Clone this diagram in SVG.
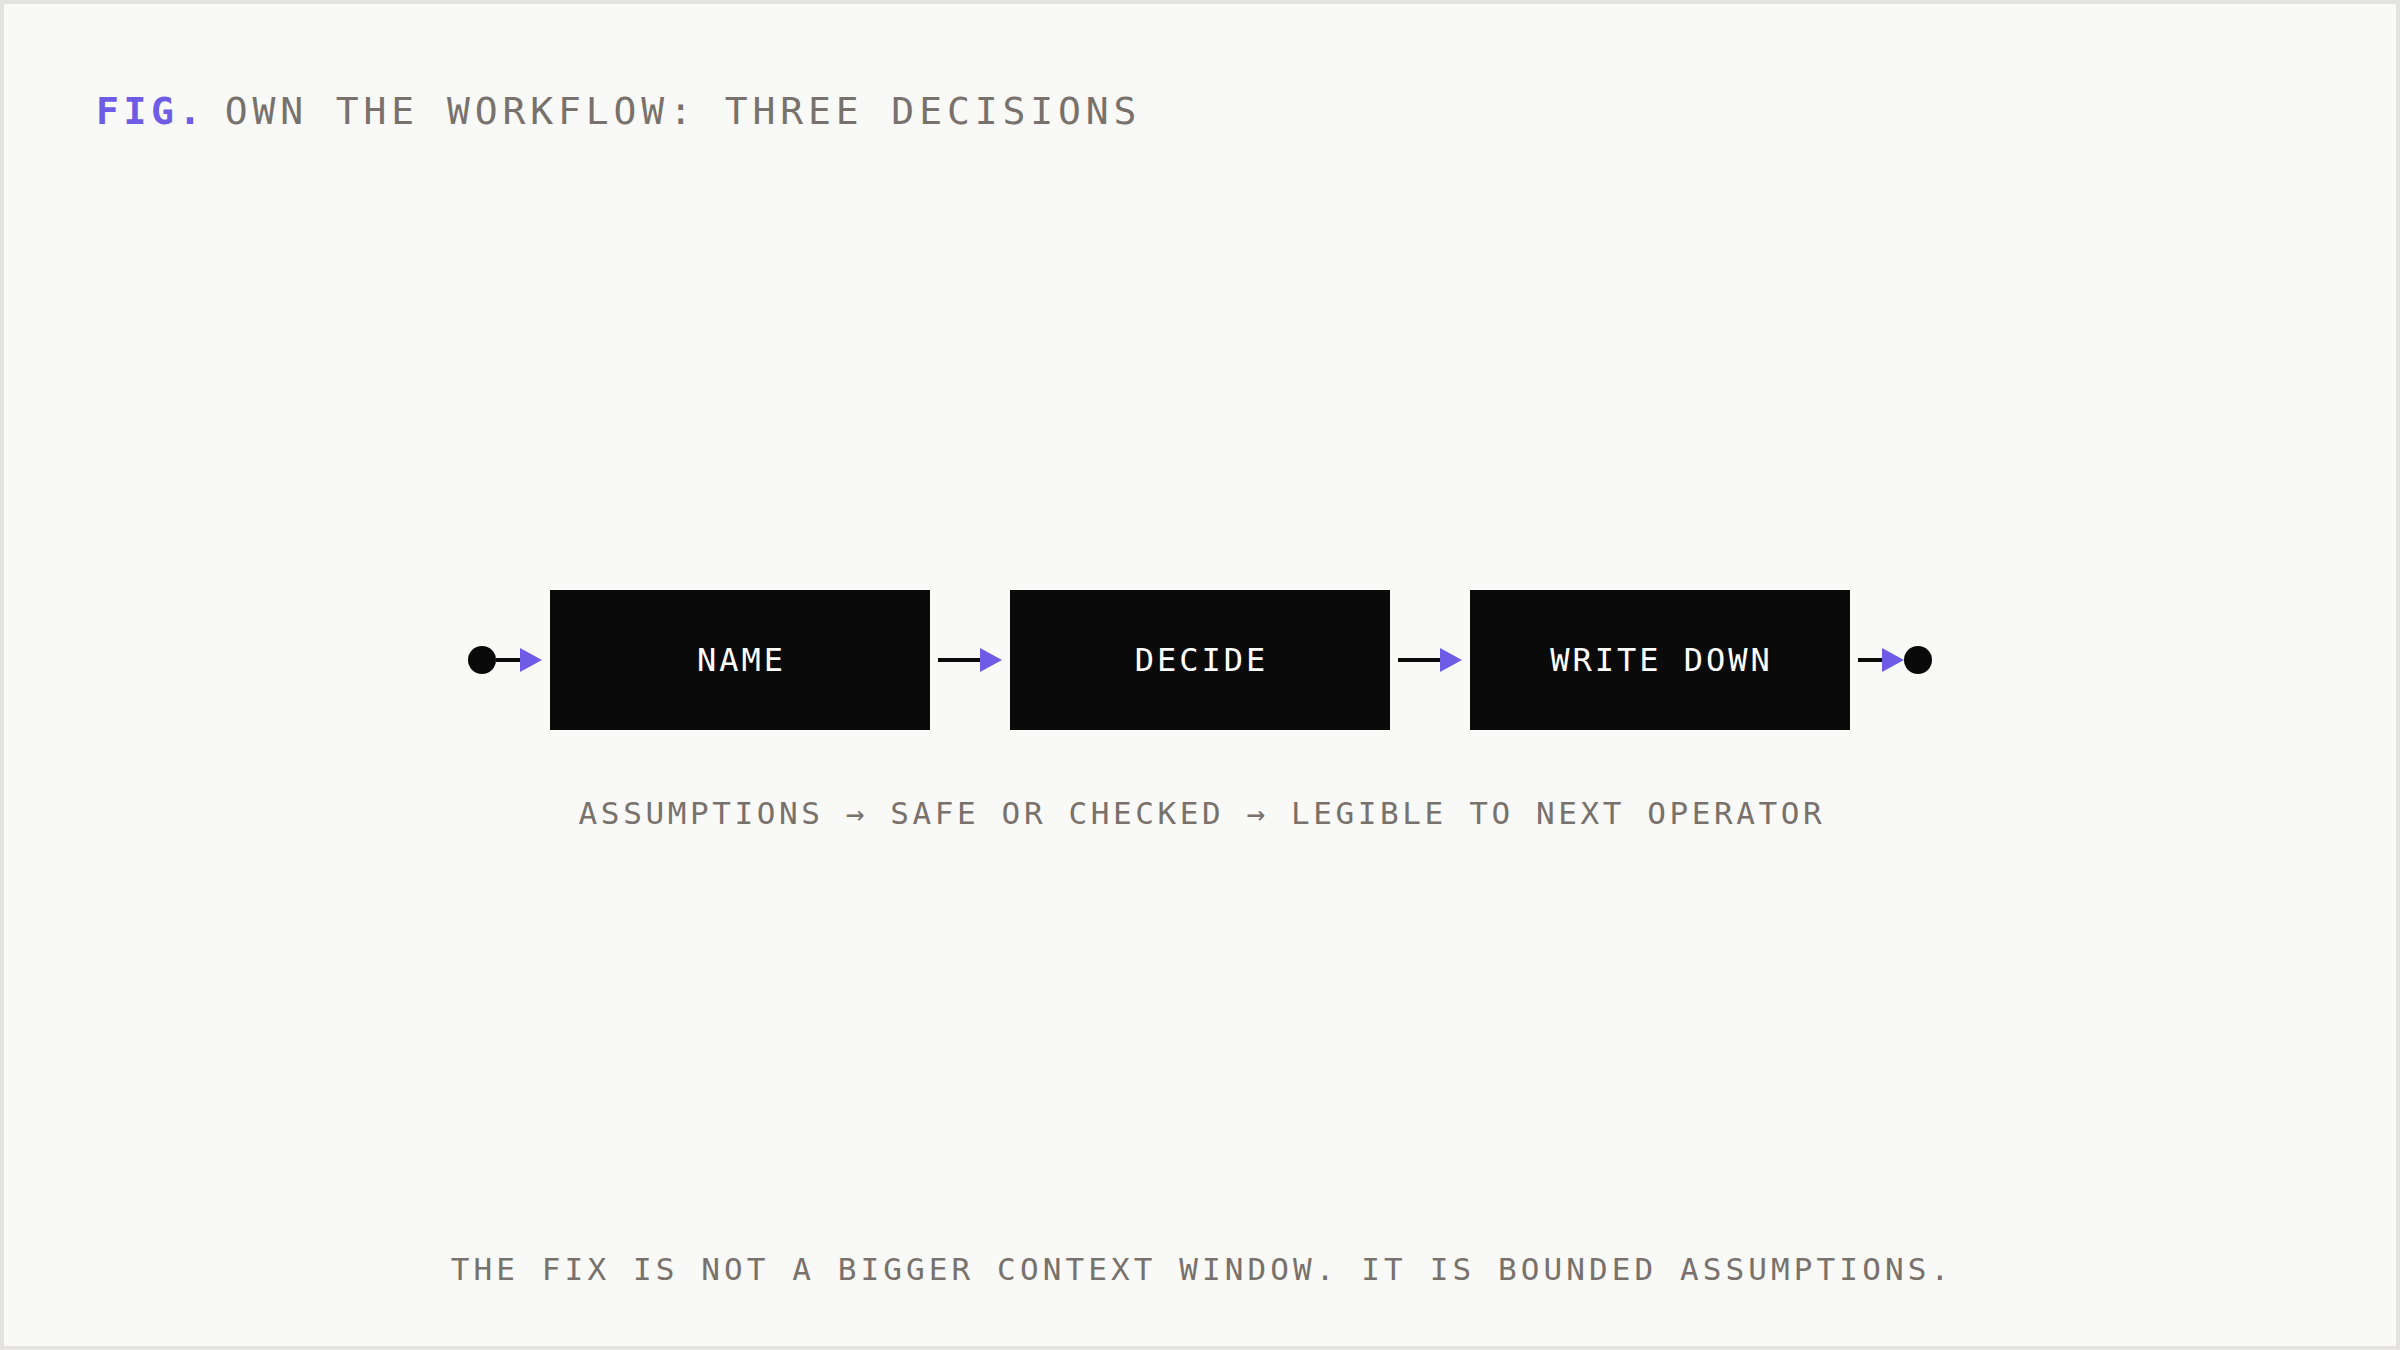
<svg xmlns="http://www.w3.org/2000/svg" width="2400" height="1350" viewBox="0 0 2400 1350">
  <defs>
    <style>
      .bg { fill: #f9f9f7; stroke: #e4e3e1; stroke-width: 4; }
      .box { fill: #0a0a0a; }
      .lbl { font-family: "DejaVu Sans Mono", "Liberation Mono", monospace; font-size: 32px; letter-spacing: 3px; fill: #ffffff; font-weight: 500; text-anchor: middle; }
      .title { font-family: "DejaVu Sans Mono", "Liberation Mono", monospace; font-size: 38px; letter-spacing: 4.6px; fill: #78716c; }
      .fig { fill: #6e5ce6; font-weight: bold; }
      .rest { letter-spacing: 4.9px; }
      .cap { font-family: "DejaVu Sans Mono", "Liberation Mono", monospace; font-size: 31px; letter-spacing: 3.6px; fill: #78716c; text-anchor: middle; }
      .foot { letter-spacing: 4.1px; }
      .edge { stroke: #0a0a0a; stroke-width: 4; fill: none; marker-end: url(#arrow); }
      .dot { fill: #0a0a0a; }
    </style>
    <marker id="arrow" markerUnits="userSpaceOnUse" viewBox="0 0 22 24" refX="1" refY="12" markerWidth="22" markerHeight="24" orient="auto">
      <path d="M0,0 L22,12 L0,24 Z" fill="#6e5ce6"/>
    </marker>
  </defs>

  <rect class="bg" x="2" y="2" width="2396" height="1346"/>

  <text class="title" x="96" y="124"><tspan class="fig">FIG.</tspan><tspan class="rest" dx="-9"> OWN THE WORKFLOW: THREE DECISIONS</tspan></text>

  <g id="connectors">
    <circle class="dot" cx="482" cy="660" r="14"/>
    <line class="edge" x1="496" y1="660" x2="521" y2="660"/>
    <line class="edge" x1="938" y1="660" x2="981" y2="660"/>
    <line class="edge" x1="1398" y1="660" x2="1441" y2="660"/>
    <line class="edge" x1="1858" y1="660" x2="1883" y2="660"/>
    <circle class="dot" cx="1918" cy="660" r="14"/>
  </g>

  <g id="node-name">
    <rect class="box" x="550" y="590" width="380" height="140"/>
    <text class="lbl" x="741.5" y="671">NAME</text>
  </g>
  <g id="node-decide">
    <rect class="box" x="1010" y="590" width="380" height="140"/>
    <text class="lbl" x="1201.5" y="671">DECIDE</text>
  </g>
  <g id="node-write-down">
    <rect class="box" x="1470" y="590" width="380" height="140"/>
    <text class="lbl" x="1661.5" y="671">WRITE DOWN</text>
  </g>

  <text class="cap" x="1202" y="824">ASSUMPTIONS → SAFE OR CHECKED → LEGIBLE TO NEXT OPERATOR</text>

  <text class="cap foot" x="1202" y="1280">THE FIX IS NOT A BIGGER CONTEXT WINDOW. IT IS BOUNDED ASSUMPTIONS.</text>
</svg>
